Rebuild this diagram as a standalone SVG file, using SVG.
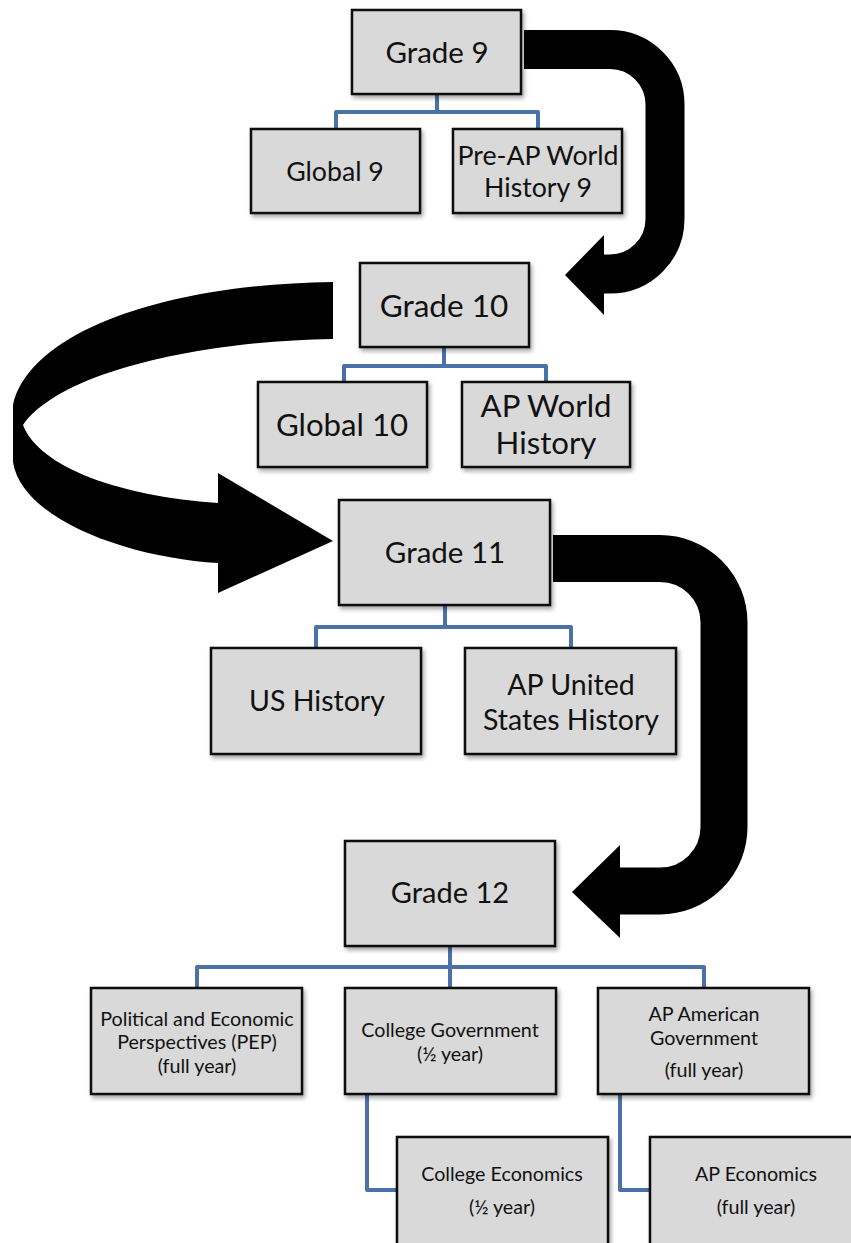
<svg xmlns="http://www.w3.org/2000/svg" width="851" height="1243" viewBox="0 0 851 1243">
<defs>
<filter id="sh" x="-10%" y="-10%" width="130%" height="130%">
<feDropShadow dx="2" dy="3" stdDeviation="2" flood-color="#000" flood-opacity="0.35"/>
</filter>
<style>
.box{fill:#d9d9d9;stroke:#111;stroke-width:2.5;filter:url(#sh)}
.t{font-family:Lato,"Liberation Sans",sans-serif;fill:#111;text-anchor:middle}
.conn{fill:none;stroke:#4a72a8;stroke-width:4;stroke-linejoin:round}
.band{fill:none;stroke:#000}
</style>
</defs>
<g id="arrows">
<path class="band" stroke-width="39" d="M524 49.5 H610 A55 55 0 0 1 665 104.5 V219 A55 55 0 0 1 610 274 H602"/>
<polygon points="604,235 565,275 604,315" fill="#000"/>
<path fill="#000" d="M333 282 C170 284 30 330 13 405 L13 462 C22 520 130 558 218 563 L218 593 L333 541 L218 473 L218 503 C120 496 40 468 23 425 C60 372 200 341 333 339 Z"/>
<path class="band" stroke-width="47" d="M553 558.5 H660 A64 64 0 0 1 724 622.5 V827 A64 64 0 0 1 660 891 H617"/>
<polygon points="620,845 572,892 620,938" fill="#000"/>
</g>
<g id="connectors">
<path class="conn" d="M437 94 V112 M336 128 V112 H538 V128"/>
<path class="conn" d="M444 347 V366 M344 382 V366 H546 V382"/>
<path class="conn" d="M445 605 V627 M316 648 V627 H571 V648"/>
<path class="conn" d="M450 946 V988 M197 988 V967 H704 V988"/>
<path class="conn" d="M367 1094 V1190 H397"/>
<path class="conn" d="M620 1094 V1190 H650"/>
</g>
<g id="grade9"><rect class="box" x="352" y="10" width="169" height="84"/><text class="t" x="437" y="62.6" font-size="29.5">Grade 9</text></g>
<g id="global9"><rect class="box" x="251" y="129" width="169" height="84"/><text class="t" x="335" y="180.6" font-size="26.7">Global 9</text></g>
<g id="preap9"><rect class="box" x="453" y="129" width="169" height="84"/><text class="t" x="538" y="164.6" font-size="26.7">Pre-AP World</text><text class="t" x="538" y="196.6" font-size="26.7">History 9</text></g>
<g id="grade10"><rect class="box" x="360" y="263" width="169" height="84"/><text class="t" x="444" y="317.3" font-size="31.5">Grade 10</text></g>
<g id="global10"><rect class="box" x="258" y="382" width="169" height="85"/><text class="t" x="342" y="436.2" font-size="31.2">Global 10</text></g>
<g id="apworld"><rect class="box" x="462" y="382" width="168" height="85"/><text class="t" x="546" y="417.2" font-size="31.2">AP World</text><text class="t" x="546" y="454.2" font-size="31.2">History</text></g>
<g id="grade11"><rect class="box" x="339" y="500" width="211" height="105"/><text class="t" x="445" y="562.6" font-size="29.5">Grade 11</text></g>
<g id="ushistory"><rect class="box" x="211" y="648" width="210" height="106"/><text class="t" x="317" y="711.3" font-size="28.5">US History</text></g>
<g id="apush"><rect class="box" x="465" y="648" width="211" height="106"/><text class="t" x="571" y="695.3" font-size="28.5">AP United</text><text class="t" x="571" y="730.3" font-size="28.5">States History</text></g>
<g id="grade12"><rect class="box" x="345" y="841" width="210" height="105"/><text class="t" x="450" y="903.4" font-size="29">Grade 12</text></g>
<g id="pep"><rect class="box" x="91" y="988" width="211" height="106"/><text class="t" x="197" y="1026" font-size="19.7">Political and Economic</text><text class="t" x="197" y="1049" font-size="19.7">Perspectives (PEP)</text><text class="t" x="197" y="1073" font-size="19.7">(full year)</text></g>
<g id="collegegov"><rect class="box" x="345" y="988" width="211" height="106"/><text class="t" x="450" y="1037" font-size="19.7">College Government</text><text class="t" x="450" y="1061" font-size="19.7">(½ year)</text></g>
<g id="apgov"><rect class="box" x="598" y="988" width="211" height="106"/><text class="t" x="704" y="1021" font-size="19.7">AP American</text><text class="t" x="704" y="1045" font-size="19.7">Government</text><text class="t" x="704" y="1077" font-size="19.7">(full year)</text></g>
<g id="collegeecon"><rect class="box" x="397" y="1137" width="211" height="112"/><text class="t" x="502" y="1181" font-size="19.7">College Economics</text><text class="t" x="502" y="1214" font-size="19.7">(½ year)</text></g>
<g id="apecon"><rect class="box" x="650" y="1137" width="211" height="112"/><text class="t" x="756" y="1181" font-size="19.7">AP Economics</text><text class="t" x="756" y="1214" font-size="19.7">(full year)</text></g>
</svg>
